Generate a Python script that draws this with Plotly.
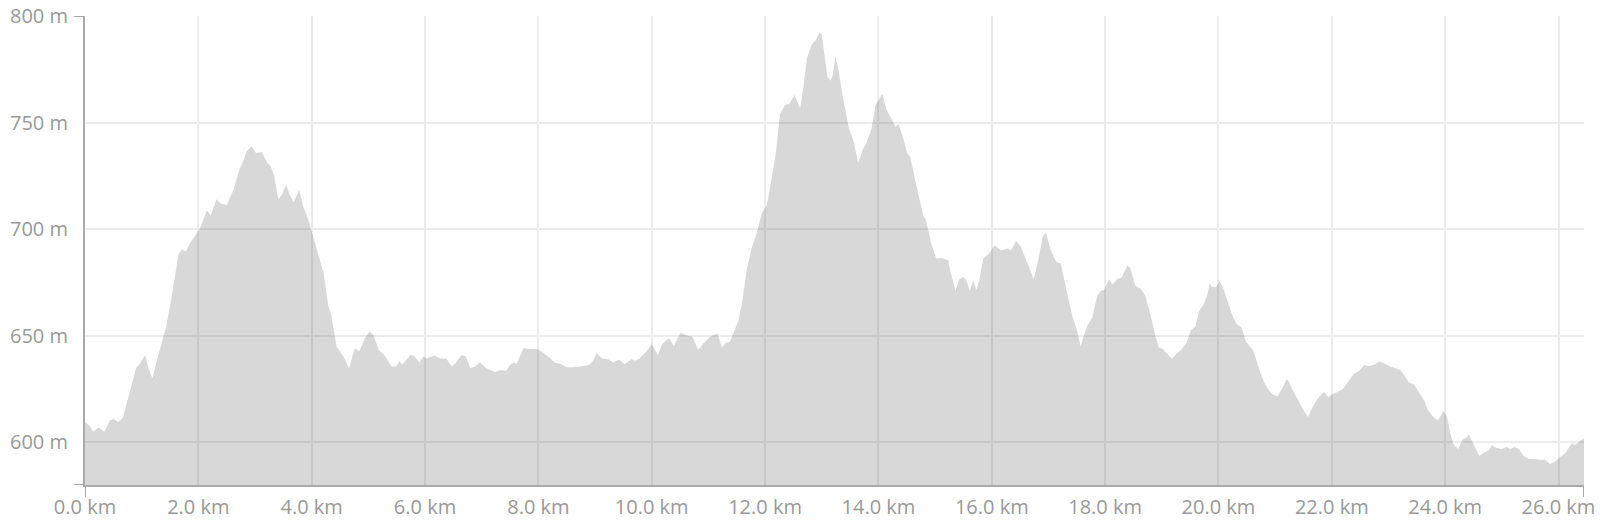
import plotly.graph_objects as go

# distance along route (km)
distance_km = [
    0.0, 0.02, 0.08, 0.14, 0.24, 0.34, 0.44, 0.5, 0.59, 0.67, 0.77, 0.9, 0.97, 1.06, 1.12, 1.19, 1.27, 1.35,
    1.43, 1.5, 1.59, 1.65, 1.71, 1.78, 1.85, 1.94, 2.02, 2.15, 2.22, 2.32, 2.39, 2.5, 2.62, 2.72, 2.79, 2.85,
    2.94, 3.02, 3.12, 3.21, 3.28, 3.34, 3.41, 3.47, 3.55, 3.6, 3.68, 3.78, 3.85, 3.94, 4.03, 4.12, 4.21, 4.29,
    4.35, 4.44, 4.56, 4.66, 4.76, 4.84, 4.94, 5.02, 5.09, 5.18, 5.28, 5.41, 5.49, 5.55, 5.6, 5.74, 5.81, 5.9,
    5.97, 6.03, 6.16, 6.26, 6.38, 6.47, 6.54, 6.64, 6.72, 6.8, 6.88, 6.97,
    7.09, 7.24, 7.32, 7.43, 7.5, 7.56, 7.62, 7.74, 7.82, 7.97, 8.06, 8.18, 8.29, 8.38, 8.5, 8.62, 8.74, 8.88,
    8.96, 9.03, 9.11, 9.24, 9.32, 9.42, 9.52, 9.65, 9.71, 9.79, 9.9, 10.0, 10.11, 10.18, 10.31, 10.39, 10.51,
    10.61, 10.72, 10.82, 10.91, 11.03, 11.16, 11.24, 11.31, 11.38, 11.44, 11.53,
    11.59, 11.68, 11.77, 11.85, 11.94, 12.03, 12.1, 12.19, 12.26, 12.35, 12.43, 12.52, 12.62, 12.67, 12.74,
    12.82, 12.9, 12.96, 13.0, 13.04, 13.1, 13.15, 13.19, 13.24, 13.29, 13.37, 13.48, 13.57, 13.64, 13.72,
    13.79, 13.88, 13.95, 14.02, 14.07, 14.14, 14.22, 14.3, 14.36, 14.42, 14.51, 14.56, 14.63, 14.7, 14.79,
    14.84, 14.93, 15.02, 15.12, 15.23, 15.28, 15.36, 15.42, 15.5, 15.55, 15.61, 15.67, 15.73, 15.78, 15.85,
    15.95, 16.05, 16.16, 16.28, 16.34, 16.43, 16.51, 16.6, 16.74, 16.83, 16.9, 16.96, 17.04, 17.14, 17.22,
    17.34, 17.43, 17.5, 17.57, 17.62, 17.69, 17.77, 17.86, 17.92, 17.98, 18.07, 18.13, 18.22, 18.29, 18.39,
    18.44, 18.53, 18.62, 18.7, 18.8, 18.89, 18.95, 19.01, 19.11, 19.18, 19.26, 19.35, 19.44, 19.51, 19.59,
    19.66, 19.74, 19.8, 19.85, 19.88, 19.96, 20.02, 20.08, 20.17, 20.26, 20.32, 20.41, 20.48, 20.56, 20.62,
    20.72, 20.81, 20.9, 20.96, 21.04, 21.13, 21.2, 21.24, 21.32, 21.41, 21.51, 21.58, 21.66, 21.75, 21.84,
    21.87, 21.94, 22.02, 22.11, 22.2, 22.3, 22.39, 22.48, 22.57, 22.66, 22.75, 22.84, 22.93, 23.02, 23.12,
    23.21, 23.27, 23.36, 23.45, 23.54, 23.63, 23.69, 23.78, 23.87, 23.97, 24.03, 24.09, 24.15, 24.23, 24.3,
    24.36, 24.42, 24.51, 24.6, 24.69, 24.77, 24.82, 24.91, 25.0, 25.08, 25.15, 25.22, 25.3, 25.38, 25.48,
    25.57, 25.67, 25.76, 25.85, 25.94, 26.03, 26.12, 26.23, 26.3, 26.45,
]

# elevation (m)
elevation_m = [
    609.5, 609, 607.8, 605, 607, 605, 610.3, 611, 609.5, 611.7, 621.6, 634.8, 637, 641, 634.8, 630, 638.8, 646.9,
    654, 663.8, 677.8, 688, 690.6, 689.5, 693.4, 696.9, 700, 708.8, 706.3, 714, 712.2, 711.4, 718.4, 727.8, 731.7, 736.4,
    739, 735.6, 736.3, 731.3, 729.4, 724.7, 714, 716, 720.8, 716.9, 712.5, 718.4, 710.6, 704.4, 695.8, 687.2, 679.4, 664.5,
    659, 645, 640.3, 634.8, 644.2, 642.7, 648.9, 652, 650.5, 643.4, 641, 635.6, 635.6, 638, 636.4, 641, 640.6, 637.5,
    640.3, 639.5, 640.8, 639.5, 639.2, 635.6, 637.2, 641, 640.3, 634.8, 635.6, 637.5,
    634.7, 632.9, 634, 633.6, 636.3, 637.4, 637, 644.4, 643.8, 643.8, 642.5, 640.2, 637.4, 637, 635.2, 635.2, 635.5, 636,
    637.9, 642, 639.4, 638.9, 637.5, 638.9, 636.6, 639.1, 638.3, 639.4, 642.5, 646, 641, 646, 649, 645.2, 651.4,
    650.3, 649.5, 643.3, 646.4, 649.5, 651.1, 644.4, 646.7, 647.2, 651.1, 657.2,
    665, 681.5, 691.8, 698, 707.4, 711.3, 721.5, 735.6, 753.6, 758.3, 758.8, 763, 756.7, 765.4, 780.3,
    786.5, 788.9, 792.3, 791.2, 782.6, 771.6, 769.6, 771.6, 781, 775.5, 762.2, 747.3, 740.6, 730.9, 737.1,
    740.6, 747.3, 758.3, 761.4, 763.5, 756, 752.4, 748.1, 749.2, 744.2, 735.6, 734, 724.6, 716.8, 706.6,
    704.2, 693.4, 686.2, 686.5, 685.4, 679.2, 671, 676.3, 677.6, 676, 671, 675.7, 671.6, 676, 686.2,
    688.6, 692.5, 690.1, 690.9, 690.1, 694.4, 692, 686.2, 676.5, 687, 696.7, 698.3, 690.1, 684.6, 683.9,
    668.7, 658.5, 653, 644.8, 649.8, 654.9, 658.5, 668.7, 671, 671.5, 676.5, 674.1, 676.8, 677.3, 682.8,
    682, 673.7, 672.1, 669.4, 660, 649.8, 644.4, 643.9, 641.2, 639.2, 641.7, 643.6, 646.7, 652.5, 654.2,
    661.6, 664.7, 669, 674.9, 672.9, 673, 675.7, 672.6, 665.5, 658.5, 655.6, 653.8, 647.5, 645.1, 642.8,
    634.2, 627.9, 624, 622.4, 621.6, 625.5, 629.5, 628.7, 624, 619.3, 614.6, 611.9, 616.6, 620.4, 623.2,
    623.5, 621.3, 622.7, 623.7, 625.1, 628.7, 632.3, 633.5, 636.2, 635.7, 636.5, 637.9, 637, 635.7, 634.9,
    633.9, 631.8, 628.2, 627.1, 623.2, 619.6, 615.4, 612.2, 610.3, 614.6, 612.2, 604.4, 598.9, 596.9, 601,
    602, 603.6, 598.9, 593.7, 595.3, 596.2, 598.6, 597.3, 596.9, 597.8, 596.9, 597.8, 596.9, 593.7, 592.2,
    592.2, 591.8, 591.8, 589.8, 591, 593.1, 595, 599.4, 598.9, 602,
]

x_tick_values = [0, 2, 4, 6, 8, 10, 12, 14, 16, 18, 20, 22, 24, 26]
x_tick_labels = ["0.0 km", "2.0 km", "4.0 km", "6.0 km", "8.0 km", "10.0 km", "12.0 km",
                 "14.0 km", "16.0 km", "18.0 km", "20.0 km", "22.0 km", "24.0 km", "26.0 km"]
y_tick_values = [600, 650, 700, 750, 800]
y_tick_labels = ["600 m", "650 m", "700 m", "750 m", "800 m"]

x_min, x_max = 0, distance_km[-1]
y_min, y_max = 580, 800

AXIS_COLOR = "#aaaaaa"
GRID_COLOR = "#ececec"
LABEL_COLOR = "#999999"
FONT = "Open Sans, Lato, sans-serif"
FONT_SIZE = 20

fig = go.Figure()
fig.add_trace(go.Scatter(
    x=distance_km, y=elevation_m,
    mode="lines",
    line=dict(width=0, color="rgba(0,0,0,0)"),
    fill="tozeroy",
    fillcolor="rgba(0,0,0,0.152)",
    hoverinfo="skip",
    showlegend=False,
))

shape_style = dict(type="line", line=dict(color=AXIS_COLOR, width=2), layer="above")
shapes = [
    dict(xref="paper", xsizemode="pixel", xanchor=0, x0=-11, x1=0, yref="y", y0=y_max, y1=y_max, **shape_style),
    dict(xref="paper", xsizemode="pixel", xanchor=0, x0=-11, x1=0, yref="y", y0=y_min, y1=y_min, **shape_style),
    dict(yref="paper", ysizemode="pixel", yanchor=0, y0=0, y1=-12, xref="x", x0=x_min, x1=x_min, **shape_style),
    dict(yref="paper", ysizemode="pixel", yanchor=0, y0=0, y1=-12, xref="x", x0=x_max, x1=x_max, **shape_style),
]

fig.update_layout(
    template="none",
    width=1600, height=525,
    margin=dict(l=85, r=16, t=16, b=40, autoexpand=False),
    paper_bgcolor="white", plot_bgcolor="white",
    font=dict(family=FONT, size=FONT_SIZE, color=LABEL_COLOR),
    shapes=shapes,
    showlegend=False,
)
fig.update_xaxes(
    range=[x_min, x_max],
    tickmode="array", tickvals=x_tick_values, ticktext=x_tick_labels,
    showgrid=True, gridcolor=GRID_COLOR, gridwidth=2,
    showline=True, linecolor=AXIS_COLOR, linewidth=2,
    ticks="", ticklabelstandoff=3, automargin=False, ticklabeloverflow="allow",
    zeroline=False, fixedrange=True,
    tickfont=dict(family=FONT, size=FONT_SIZE, color=LABEL_COLOR),
)
fig.update_yaxes(
    range=[y_min, y_max],
    tickmode="array", tickvals=y_tick_values, ticktext=y_tick_labels,
    showgrid=True, gridcolor=GRID_COLOR, gridwidth=2,
    showline=True, linecolor=AXIS_COLOR, linewidth=2,
    ticks="", ticklabelstandoff=11, automargin=False, ticklabeloverflow="allow",
    zeroline=False, fixedrange=True,
    tickfont=dict(family=FONT, size=FONT_SIZE, color=LABEL_COLOR),
)

# remove the default 8px page margin so the 1600x525 figure fills the window exactly
fig.write_html(
    "out.html",
    config={"displayModeBar": False},
    post_script="document.body.style.margin='0';",
)
